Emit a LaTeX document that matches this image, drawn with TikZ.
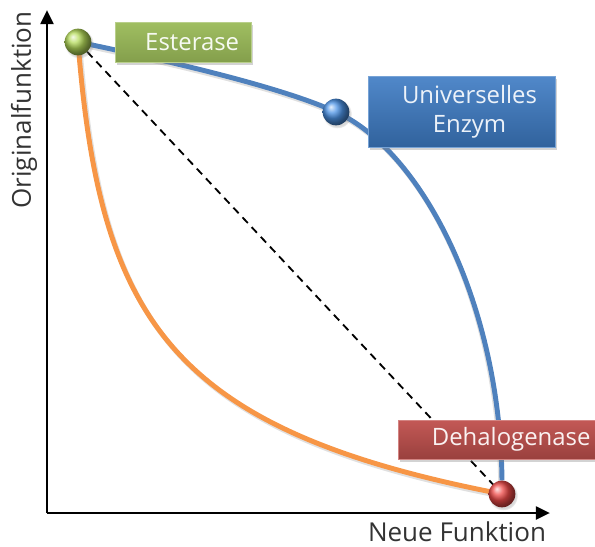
\documentclass[tikz,border=0pt]{standalone}
\usepackage{fontspec}
\setmainfont{Open Sans}
\usetikzlibrary{arrows.meta,shadows}

\definecolor{estgreen}{HTML}{9BBB59}
\definecolor{unblue}{HTML}{3D7BC4}
\definecolor{dhred}{HTML}{C0504D}
\definecolor{curveblue}{HTML}{4F81BD}
\definecolor{curveorange}{HTML}{F79646}
\definecolor{ballgreen}{HTML}{B4DA5A}
\definecolor{ballblue}{HTML}{4C93E6}
\definecolor{ballred}{HTML}{EE4A48}
\pgfdeclarelayer{background}
\pgfsetlayers{background,main}

\begin{document}
\begin{tikzpicture}[x=0.025cm,y=-0.025cm,
  lbox/.style={rectangle,inner sep=0pt,line width=0.7pt,
    drop shadow={shadow xshift=1.2pt,shadow yshift=-2pt,opacity=.35}},
  ball/.style={circle,minimum size=19pt,inner sep=0pt,
    circular drop shadow={shadow xshift=0.8pt,shadow yshift=-1.2pt,opacity=.3}},
  boxtext/.style={font=\fontsize{17}{20.5}\selectfont,align=center},
  axlabel/.style={font=\fontsize{18.5}{22}\selectfont,text=black!80},
  trade/.style={line width=3.5pt},
  tradeshadow/.style={line width=3.5pt,draw=black,opacity=.12,
    transform canvas={xshift=1.2pt,yshift=-1.8pt}}]
\useasboundingbox (0,0) rectangle (595,547);

% axes
\coordinate (orig) at (47,513);
\coordinate (ytip) at (47,10);
\coordinate (xtip) at (550,513);
\draw[line width=2.1pt,-{Triangle[length=10pt,width=9pt]}] (orig) -- (ytip);
\draw[line width=2.1pt,-{Triangle[length=10pt,width=9pt]}] (orig) -- (xtip);
\node[axlabel,rotate=90] (ylab) at (24,110) {Originalfunktion};
\node[axlabel] (xlab) at (457,532) {Neue Funktion};

% enzymes
\node[ball,ball color=ballgreen] (est) at (78,42) {};
\node[ball,ball color=ballblue] (uni) at (336,112) {};
\node[ball,ball color=ballred] (deh) at (502,494) {};

% trade-off curves
\begin{pgfonlayer}{background}
\draw[tradeshadow] (est.center) .. controls (150,57) and (277,85) .. (uni.center)
  .. controls (420,150) and (500,300) .. (499,492);
\draw[tradeshadow] (est.center) .. controls (100,320) and (170,430) .. (deh.center);
\draw[trade,draw=curveblue] (est.center) .. controls (150,57) and (277,85) .. (uni.center)
  .. controls (420,150) and (500,300) .. (deh.north);
\draw[trade,draw=curveorange] (est.center) .. controls (100,320) and (170,430) .. (deh.center);
\draw[line width=1.3pt,dash pattern=on 5.5pt off 4pt] (est.center) -- (deh.center);
\end{pgfonlayer}

% labels
\node[lbox,minimum width=136*0.025cm,minimum height=40*0.025cm,
  draw=estgreen!70!white,top color=estgreen!95!white,bottom color=estgreen!85!black,
  label={[boxtext,text=white!92!estgreen,xshift=0.23cm]center:Esterase}]
  (estbox) at (183,42) {};
\node[lbox,minimum width=187*0.025cm,minimum height=71*0.025cm,
  draw=unblue!70!white,top color=unblue!90!white,bottom color=unblue!80!black,
  label={[boxtext,text=white!90!unblue,xshift=0.2cm]center:{Universelles\\Enzym}}]
  (unibox) at (461.5,111.5) {};
\node[lbox,minimum width=200*0.025cm,minimum height=39*0.025cm,
  draw=dhred!70!white,top color=dhred!95!white,bottom color=dhred!80!black,
  label={[boxtext,text=white!92!dhred,xshift=0.33cm]center:Dehalogenase}]
  (dehbox) at (498,439.5) {};
\end{tikzpicture}
\end{document}
